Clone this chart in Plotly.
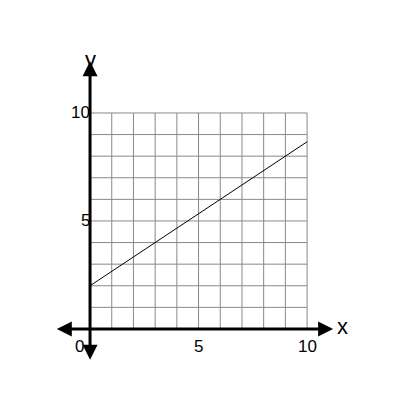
import plotly.graph_objects as go

grid_vals = list(range(0, 11))
line_x = [0, 10]
line_y = [2, 2 + 2 / 3 * 10]
x_ticks = [5, 10]
y_ticks = [5, 10]

fig = go.Figure()

# grid
for v in grid_vals:
    fig.add_trace(go.Scatter(x=[v, v], y=[0, 10], mode="lines",
                             line=dict(color="#888", width=1), hoverinfo="skip"))
    fig.add_trace(go.Scatter(x=[0, 10], y=[v, v], mode="lines",
                             line=dict(color="#888", width=1), hoverinfo="skip"))

fig.add_trace(go.Scatter(x=line_x, y=line_y, mode="lines",
                         line=dict(color="black", width=1)))

# axes with arrows
ann = [
    dict(x=11.2, y=0, ax=-1.6, ay=0),
    dict(x=0, y=12.4, ax=0, ay=-1.5),
]
for a in ann:
    fig.add_annotation(x=a["x"], y=a["y"], ax=a["ax"], ay=a["ay"],
                       xref="x", yref="y", axref="x", ayref="y",
                       showarrow=True, arrowhead=2, arrowside="end+start",
                       arrowsize=1, arrowwidth=3, arrowcolor="black", text="")

font = dict(family="Liberation Sans, Arial", size=17, color="black")
for t in x_ticks:
    fig.add_annotation(x=t, y=-0.3, text=str(t), showarrow=False,
                       font=font, yanchor="top")
for t in y_ticks:
    fig.add_annotation(x=0.1, y=t, text=str(t), showarrow=False,
                       font=font, xanchor="right")
fig.add_annotation(x=-0.2, y=-0.3, text="0", showarrow=False, font=font,
                   xanchor="right", yanchor="top")
lab = dict(family="Liberation Sans, Arial", size=22, color="black")
fig.add_annotation(x=11.3, y=0.1, text="x", showarrow=False, font=lab, xanchor="left")
fig.add_annotation(x=0, y=11.8, text="y", showarrow=False, font=lab, yanchor="bottom")

fig.update_xaxes(range=[-3.78, 14.65], visible=False, fixedrange=True)
fig.update_yaxes(range=[-3.66, 14.86], visible=False, fixedrange=True)
fig.update_layout(width=400, height=400, margin=dict(l=0, r=0, t=0, b=0),
                  showlegend=False, plot_bgcolor="white", paper_bgcolor="white")

fig.write_html("out.html")
